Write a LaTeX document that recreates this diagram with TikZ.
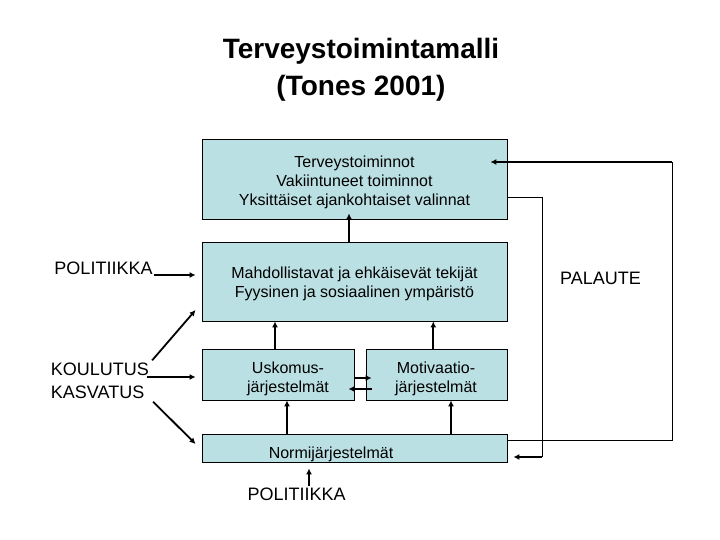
\documentclass[tikz,border=0pt]{standalone}
\usepackage{fontspec}
\setmainfont{Liberation Sans}
\usetikzlibrary{arrows.meta,calc}
\definecolor{boxfill}{RGB}{187,224,227}
\begin{document}
\begin{tikzpicture}[x=1pt,y=-1pt,
  box/.style={draw=black,line width=0.8pt,fill=boxfill,inner sep=0pt},
  btxt/.style={font=\fontsize{16}{19}\selectfont,align=center,inner sep=0pt},
  lbl/.style={font=\fontsize{18}{23.5}\selectfont,inner sep=0pt},
  arr/.style={line width=1.8pt,-{Latex[length=6pt,width=6pt]}},
  fb/.style={line width=0.8pt}]
\useasboundingbox (0,0) rectangle (720,540);
\fill[white] (0,0) rectangle (720,540);

% title
\node[font=\fontsize{28}{37}\selectfont\bfseries,align=center,inner sep=0pt] (title) at (361,69.5)
  {Terveystoimintamalli\\(Tones 2001)};

% boxes
\node[box,minimum width=305pt,minimum height=80pt] (box1) at (354.5,179) {};
\node[box,minimum width=305pt,minimum height=79pt] (box2) at (354.5,281.5) {};
\node[box,minimum width=152pt,minimum height=51pt] (usk) at (278,374.5) {};
\node[box,minimum width=141pt,minimum height=51pt] (mot) at (436.5,374.5) {};
\node[box,minimum width=305pt,minimum height=28pt] (normi) at (354.5,448) {};

% box texts
\node[btxt] (t1) at (354.5,182) {Terveystoiminnot\\Vakiintuneet toiminnot\\Yksittäiset ajankohtaiset valinnat};
\node[btxt] (t2) at (354.5,284) {Mahdollistavat ja ehkäisevät tekijät\\Fyysinen ja sosiaalinen ympäristö};
\node[btxt] (tu) at (288,378.5) {Uskomus-\\järjestelmät};
\node[btxt] (tm) at (436,378.5) {Motivaatio-\\järjestelmät};
\node[btxt] (tn) at (331,454.5) {Normijärjestelmät};

% outside labels
\node[lbl] (pol) at (103.5,268.5) {POLITIIKKA};
\node[lbl,align=left,anchor=west] (kk) at (50.7,380.7) {KOULUTUS\\KASVATUS};
\node[lbl] (pal) at (600.5,278.3) {PALAUTE};
\node[lbl] (pol2) at (296.7,494.3) {POLITIIKKA};

% internal arrows
\draw[arr] ($(box2.north)+(-5.5,0)$) -- ($(box1.south)+(-5.5,-6)$);
\draw[arr] ($(usk.north)+(-3,0)$) -- ($(box2.south)+(-79.5,0)$);
\draw[arr] ($(mot.north)+(-3.2,0)$) -- ($(box2.south)+(78.8,0)$);
\draw[arr] ($(normi.north)+(-67.5,0)$) -- ($(usk.south)+(9,0)$);
\draw[arr] ($(normi.north)+(96.5,0)$) -- ($(mot.south)+(14.5,0)$);
\draw[arr] ($(usk.east)+(0,3.5)$) -- ($(mot.west)+(6,3.5)$);
\draw[arr] ($(mot.west)+(6,14.5)$) -- ($(usk.east)+(-6,14.5)$);

% left arrows
\draw[arr] ($(pol.east)+(1,6.5)$) -- ($(box2.west)+(-6,-6.5)$);
\draw[arr] ($(kk.north east)+(3,-2)$) -- ($(box2.west)+(-6,28.5)$);
\draw[arr] ($(kk.east)+(-2,-3.7)$) -- ($(usk.west)+(-6,2.5)$);
\draw[arr] ($(kk.south east)+(4,2.7)$) -- ($(normi.west)+(-6,-4)$);

% bottom arrow
\draw[arr] ($(pol2.north)+(12.3,-2)$) -- ($(normi.south)+(-45.5,6)$);

% feedback loops
\coordinate (fbtr) at (672,162);
\coordinate (fbbr) at (542,457);
\draw[fb] ($(normi.east)+(0,-8)$) -| (fbtr);
\draw[arr,line width=1.5pt] (fbtr) -- ($(box1.east)+(-17,-17)$);
\draw[fb] ($(box1.east)+(0,18)$) -| (fbbr);
\draw[arr,line width=1.5pt] (fbbr) -- ($(normi.east)+(6,9)$);
\end{tikzpicture}
\end{document}
